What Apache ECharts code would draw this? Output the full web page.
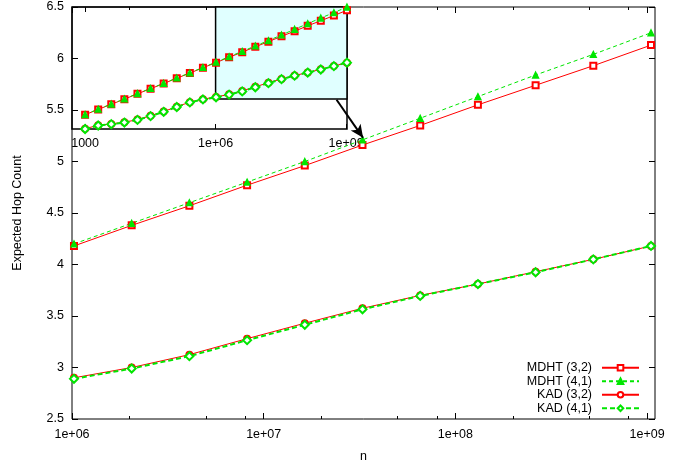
<!DOCTYPE html>
<html>
<head>
	<meta charset="UTF-8">
	<title>Expected Hop Count</title>
	<script src="https://cdn.jsdelivr.net/npm/echarts@6/dist/echarts.min.js"></script>
	<style>
		html, body { margin: 0; padding: 0; background: #fff; }
		#main { width: 691px; height: 463px; }
	</style>
</head>
<body>
<div id="main"></div>
<script>
	// network size n (1000 * 2^k)
	var nValues = [1000, 2000, 4000, 8000, 16000, 32000, 64000, 128000, 256000, 512000,
		1024000, 2048000, 4096000, 8192000, 16384000, 32768000, 65536000, 131072000,
		262144000, 524288000, 1048576000];

	// expected hop count per series
	var mdht32 = [2.24, 2.44, 2.63, 2.82, 3.02, 3.21, 3.40, 3.60, 3.79, 3.99,
		4.18, 4.38, 4.57, 4.77, 4.96, 5.16, 5.35, 5.55, 5.74, 5.93, 6.13];
	var mdht41 = [2.25, 2.45, 2.64, 2.83, 3.03, 3.22, 3.41, 3.61, 3.80, 4.00,
		4.20, 4.40, 4.60, 4.80, 5.00, 5.21, 5.42, 5.63, 5.84, 6.04, 6.25];
	var kad32 = [1.72, 1.85, 1.90, 1.96, 2.06, 2.20, 2.36, 2.54, 2.71, 2.82,
		2.90, 3.00, 3.125, 3.28, 3.43, 3.575, 3.70, 3.81, 3.93, 4.05, 4.18];
	var kad41 = [1.71, 1.84, 1.89, 1.95, 2.05, 2.19, 2.35, 2.53, 2.70, 2.81,
		2.89, 2.99, 3.11, 3.265, 3.415, 3.565, 3.695, 3.81, 3.925, 4.05, 4.18];

	var seriesNames = ['MDHT (3,2)', 'MDHT (4,1)', 'KAD (3,2)', 'KAD (4,1)'];

	// tick labels
	var mainMajorTicks = [1e6, 1e7, 1e8, 1e9];
	var mainMinorTicks = [2e6, 5e6, 8e6, 2e7, 5e7, 8e7, 2e8, 5e8, 8e8];
	var insetTicks = [1000, 1e6, 1e9];

	var mainStart = 10; // main plot shows n >= 1e6

	function pairs(xs, ys, from) {
		var out = [];
		for (var i = from; i < xs.length; i++) {
			out.push([xs[i], ys[i]]);
		}
		return out;
	}

	function expLabel(v) {
		var e = Math.round(Math.log10(v));
		if (e < 4) return String(Math.round(v));
		return '1e+' + (e < 10 ? '0' + e : e);
	}

	var RED = '#ff0000';
	var GREEN = '#00e600';
	var FONT = '"Liberation Sans", Arial, sans-serif';
	var FS = 12.5;

	var styles = [
		{ color: RED, symbol: 'emptyRect', size: 6, type: 'solid', width: 1 },
		{ color: GREEN, symbol: 'triangle', size: 6, type: [4, 3], width: 1 },
		{ color: RED, symbol: 'emptyCircle', size: 6, type: 'solid', width: 1 },
		{ color: GREEN, symbol: 'emptyDiamond', size: 8, type: [5, 3], width: 2 }
	];
	var allData = [mdht32, mdht41, kad32, kad41];

	function makeSeries(idx, inset) {
		var st = styles[idx];
		return {
			name: seriesNames[idx],
			type: 'line',
			xAxisIndex: inset ? 4 : 0,
			yAxisIndex: inset ? 2 : 0,
			data: pairs(nValues, allData[idx], inset ? 0 : mainStart),
			symbol: st.symbol,
			symbolSize: st.size,
			showAllSymbol: true,
			color: st.color,
			lineStyle: { color: st.color, width: st.width, type: st.type },
			itemStyle: { color: st.color, borderColor: st.color, borderWidth: 1.3 },
			silent: true,
			z: 3
		};
	}

	var chart = echarts.init(document.getElementById('main'));

	var tickLine = { color: '#000', width: 1 };

	var series = [];
	for (var i = 0; i < 4; i++) series.push(makeSeries(i, false));
	for (var j = 0; j < 4; j++) series.push(makeSeries(j, true));

	// zoom box inside the inset
	series[4].markArea = {
		silent: true,
		itemStyle: { color: '#e0ffff', borderColor: '#000', borderWidth: 1.5 },
		data: [[{ coord: [1e6, 2.83] }, { coord: [1.05e9, 6.25] }]]
	};
	// arrow pointing from the inset to the main plot
	series[0].markLine = {
		silent: true,
		symbol: ['none', 'arrow'],
		symbolSize: [9, 13],
		label: { show: false },
		lineStyle: { color: '#000', width: 2, type: 'solid' },
		data: [[{ coord: [2.4e7, 5.6] }, { coord: [3.3e7, 5.23] }]]
	};

	var option = {
		animation: false,
		backgroundColor: '#fff',
		textStyle: { fontFamily: FONT, color: '#000' },
		grid: [
			{ left: 72, top: 7, right: 36, bottom: 44, show: true, borderColor: '#000', borderWidth: 1,
				backgroundColor: 'transparent', containLabel: false, outerBoundsMode: 'none' },
			{ left: 72, top: 7, width: 275, height: 122, show: true, borderColor: '#000', borderWidth: 1.5,
				backgroundColor: 'transparent', containLabel: false, outerBoundsMode: 'none' }
		],
		legend: {
			orient: 'vertical',
			right: 51,
			top: 361,
			align: 'right',
			itemWidth: 37,
			itemHeight: 7,
			itemGap: 0,
			padding: 0,
			data: seriesNames,
			textStyle: { fontFamily: FONT, fontSize: FS, lineHeight: 13.5, color: '#000', padding: [0, 5, 0, 0] }
		},
		xAxis: [
			{
				type: 'log', gridIndex: 0, position: 'bottom', min: 1e6, max: 1.1e9,
				name: 'n', nameLocation: 'middle', nameGap: 31,
				nameTextStyle: { fontFamily: FONT, fontSize: FS, color: '#000' },
				axisLine: { show: false },
				axisTick: { inside: true, length: 6, lineStyle: tickLine, customValues: mainMajorTicks },
				axisLabel: { fontFamily: FONT, fontSize: FS, color: '#000', margin: 9, formatter: expLabel, customValues: mainMajorTicks },
				splitLine: { show: false }
			},
			{
				type: 'log', gridIndex: 0, position: 'bottom', min: 1e6, max: 1.1e9,
				axisLine: { show: false },
				axisTick: { inside: true, length: 3, lineStyle: tickLine, customValues: mainMinorTicks },
				axisLabel: { show: false },
				splitLine: { show: false }
			},
			{
				type: 'log', gridIndex: 0, position: 'top', min: 1e6, max: 1.1e9,
				axisLine: { show: false },
				axisTick: { inside: true, length: 6, lineStyle: tickLine, customValues: mainMajorTicks },
				axisLabel: { show: false },
				splitLine: { show: false }
			},
			{
				type: 'log', gridIndex: 0, position: 'top', min: 1e6, max: 1.1e9,
				axisLine: { show: false },
				axisTick: { inside: true, length: 3, lineStyle: tickLine, customValues: mainMinorTicks },
				axisLabel: { show: false },
				splitLine: { show: false }
			},
			{
				type: 'log', gridIndex: 1, position: 'bottom', min: 500, max: 1.05e9,
				axisLine: { show: false },
				axisTick: { inside: true, length: 5, lineStyle: tickLine, customValues: insetTicks },
				axisLabel: { fontFamily: FONT, fontSize: FS, color: '#000', margin: 8, formatter: expLabel, customValues: insetTicks },
				splitLine: { show: false }
			},
			{
				type: 'log', gridIndex: 1, position: 'top', min: 500, max: 1.05e9,
				axisLine: { show: false },
				axisTick: { inside: true, length: 5, lineStyle: tickLine, customValues: insetTicks },
				axisLabel: { show: false },
				splitLine: { show: false }
			}
		],
		yAxis: [
			{
				type: 'value', gridIndex: 0, position: 'left', min: 2.5, max: 6.5, interval: 0.5,
				name: 'Expected Hop Count', nameLocation: 'middle', nameGap: 48,
				nameTextStyle: { fontFamily: FONT, fontSize: FS, color: '#000' },
				axisLine: { show: false },
				axisTick: { inside: true, length: 6, lineStyle: tickLine },
				axisLabel: { fontFamily: FONT, fontSize: FS, color: '#000', margin: 8 },
				splitLine: { show: false }
			},
			{
				type: 'value', gridIndex: 0, position: 'right', min: 2.5, max: 6.5, interval: 0.5,
				axisLine: { show: false },
				axisTick: { inside: true, length: 6, lineStyle: tickLine },
				axisLabel: { show: false },
				splitLine: { show: false }
			},
			{
				type: 'value', gridIndex: 1, min: 1.71, max: 6.25,
				axisLine: { show: false },
				axisTick: { show: false },
				axisLabel: { show: false },
				splitLine: { show: false }
			}
		],
		series: series
	};

	chart.setOption(option);
</script>
</body>
</html>
